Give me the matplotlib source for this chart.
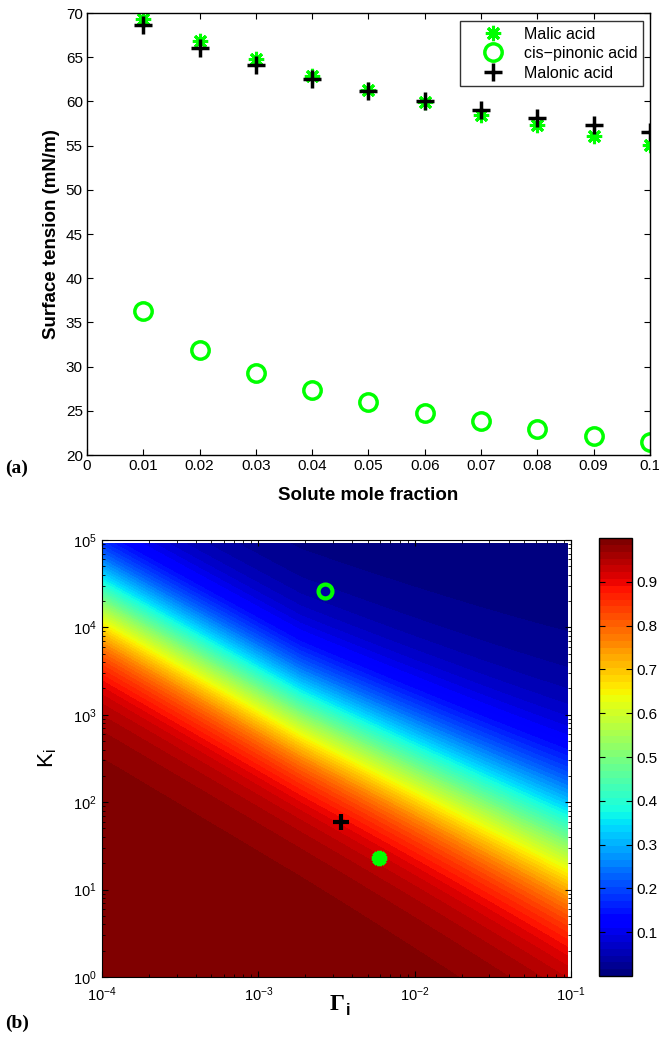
import numpy as np
import matplotlib
matplotlib.use("Agg")
import matplotlib.pyplot as plt
from matplotlib.colors import ListedColormap

plt.rcParams["font.family"] = ["Liberation Sans", "DejaVu Sans"]
plt.rcParams["mathtext.fontset"] = "custom"
plt.rcParams["mathtext.rm"] = "Liberation Sans"
plt.rcParams["mathtext.it"] = "Liberation Sans:italic"
plt.rcParams["mathtext.bf"] = "Liberation Sans:bold"

# Panel (a): surface tension vs solute mole fraction
mole_fraction = [0.01, 0.02, 0.03, 0.04, 0.05, 0.06, 0.07, 0.08, 0.09, 0.10]
malic = [69.3, 66.8, 64.8, 62.9, 61.3, 59.9, 58.5, 57.3, 56.1, 55.1]
cis_pinonic = [36.3, 31.9, 29.3, 27.4, 26.0, 24.8, 23.8, 23.0, 22.2, 21.5]
malonic = [68.6, 66.0, 64.1, 62.5, 61.2, 60.0, 59.0, 58.1, 57.3, 56.5]

# Panel (b): fitted parameters (Gamma_i, K_i) per compound
gamma_fit = {"malic": 5.9e-3, "pinonic": 2.65e-3, "malonic": 3.4e-3}
k_fit = {"malic": 23.0, "pinonic": 2.6e4, "malonic": 59.0}

# background field: 1/(1+(K/K50)^q), K50 and q varying with log10(Gamma)
lg_gamma_nodes = [-4.0, -2.73, -1.02]
lg_k50_nodes = [4.30, 3.02, 1.55]
q_nodes = [1.0, 0.96, 0.75]

GREEN = "#00ff00"
ASTER = (8, 2, 0)

fig = plt.figure(figsize=(6.59, 10.41), dpi=100)

# ---------------- (a)
ax1 = fig.add_axes([0.1320, 0.5629, 0.8543, 0.4246])
ax1.plot(mole_fraction, malic, ls="none", marker=ASTER, ms=11, mec=GREEN,
         mew=2.2, label="Malic acid")
ax1.plot(mole_fraction, cis_pinonic, ls="none", marker="o", ms=12.5, mfc="none",
         mec=GREEN, mew=2.5, label="cis\u2212pinonic acid")
ax1.plot(mole_fraction, malonic, ls="none", marker="+", ms=13, mec="black",
         mew=2.5, label="Malonic acid")
ax1.set_xlim(0, 0.1)
ax1.set_ylim(20, 70)
ax1.set_xticks(np.arange(0, 0.101, 0.01))
ax1.set_xticklabels(["0"] + ["%.2f" % v for v in np.arange(0.01, 0.095, 0.01)] + ["0.1"])
ax1.set_yticks(np.arange(20, 71, 5))
ax1.tick_params(direction="in", top=True, right=True, labelsize=11, length=4, pad=3)
ax1.set_xlabel("Solute mole fraction", fontsize=13.5, fontweight="bold", labelpad=10)
ax1.set_ylabel("Surface tension (mN/m)", fontsize=13.5, fontweight="bold", labelpad=4)
leg = ax1.legend(loc="upper right", bbox_to_anchor=(0.988, 0.982), borderaxespad=0,
                 fancybox=False, edgecolor="black", fontsize=11.5, handlelength=3.4,
                 handletextpad=0.25, labelspacing=0.28, borderpad=0.35)
leg.get_frame().set_linewidth(1.0)
for s in ax1.spines.values():
    s.set_linewidth(1.0)

# ---------------- (b)
ax2 = fig.add_axes([0.1548, 0.0615, 0.7117, 0.4198])
gam = np.logspace(-4, np.log10(0.095), 300)
kk = np.logspace(0, np.log10(9.2e4), 300)
G, KK = np.meshgrid(gam, kk)
lg = np.log10(G)
lk50 = np.interp(lg, lg_gamma_nodes, lg_k50_nodes)
q = np.interp(lg, lg_gamma_nodes, q_nodes)
field = 1.0 / (1.0 + 10 ** ((np.log10(KK) - lk50) * q))

jet64 = ListedColormap(plt.get_cmap("jet")(np.linspace(0, 1, 64)))
cf = ax2.contourf(G, KK, field, levels=np.linspace(0, 1, 65), cmap=jet64,
                  vmin=0, vmax=1)
ax2.set_xscale("log")
ax2.set_yscale("log")
ax2.set_xlim(1e-4, 1e-1)
ax2.set_ylim(1, 1e5)

ax2.plot(gamma_fit["pinonic"], k_fit["pinonic"], marker="o", ms=10, mfc="none",
         mec=GREEN, mew=3, ls="none")
ax2.plot(gamma_fit["malonic"], k_fit["malonic"], marker="+", ms=12, mec="black",
         mew=3, ls="none")
ax2.plot(gamma_fit["malic"], k_fit["malic"], marker=ASTER, ms=11, mec=GREEN,
         mew=3.5, ls="none")

ax2.tick_params(which="both", direction="in", top=True, right=True, labelsize=10.5)
ax2.tick_params(which="major", length=4)
ax2.tick_params(which="minor", length=2)
ax2.tick_params(axis="x", pad=6)
ax2.tick_params(axis="y", pad=4)
ax2.set_ylabel(r"$\mathregular{K_i}$", fontsize=16, labelpad=10)
ax2.set_xlabel(" ", fontsize=16, labelpad=2)
fig.text(0.512, 0.030, "\u0393", fontsize=17, fontweight="bold",
         family="Liberation Serif", ha="center", va="baseline")
fig.text(0.5245, 0.0245, "i", fontsize=12, fontweight="bold", ha="left", va="baseline")

cax = fig.add_axes([0.909, 0.0624, 0.050, 0.4208])
cb = fig.colorbar(cf, cax=cax, ticks=np.arange(0.1, 0.95, 0.1))
cb.ax.set_yticklabels(["%.1f" % v for v in np.arange(0.1, 0.95, 0.1)])
cb.ax.tick_params(direction="in", left=True, right=True, labelsize=11, length=4)
cb.outline.set_linewidth(1.0)

fig.text(0.008, 0.5456, "(a)", fontsize=14, fontweight="bold", family="Liberation Serif")
fig.text(0.008, 0.013, "(b)", fontsize=14, fontweight="bold", family="Liberation Serif")

fig.savefig("out.png", dpi=100)
